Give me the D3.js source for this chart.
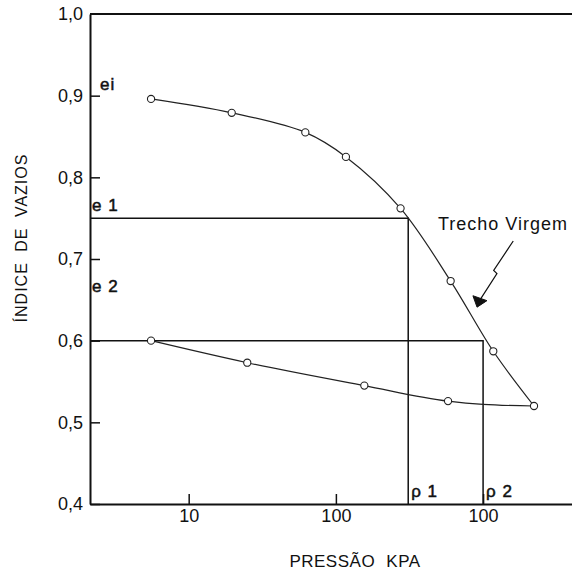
<!DOCTYPE html>
<html lang="pt">
<head>
<meta charset="UTF-8">
<title>Indice de vazios x pressao</title>
<script src="https://d3js.org/d3.v7.min.js"></script>
<style>
    body { margin: 0; background: #fff; }
    text { font-family: "Liberation Sans", Arial, sans-serif; fill: #111; }
</style>
</head>
<body>
<script>
    // upper (loading) curve
    var upperP = [5.55, 19.6, 62, 117, 275, 602, 1173, 2218];
    var upperE = [0.896, 0.879, 0.855, 0.825, 0.762, 0.673, 0.587, 0.520];
    // lower (unloading) curve
    var lowerP = [5.55, 25, 156, 578, 2218];
    var lowerE = [0.600, 0.573, 0.545, 0.526, 0.520];
    // knee of the lower line, just before it joins the last point
    var lowerKnee = [1000, 0.522];

    var yTicks = [0.4, 0.5, 0.6, 0.7, 0.8, 0.9, 1.0];
    var xTicks = [10, 100, 1000];
    var xTickLabels = ["10", "100", "100"];

    var e1 = 0.75, e2 = 0.6, p1 = 310, p2 = 1000;

    // annotation "Trecho Virgem"
    var notePos = [494, 0.7355];
    var arrowLine = [[1603, 0.722], [1180, 0.686], [1242, 0.682], [953, 0.650]];
    var arrowHead = [[853, 0.655], [1062, 0.649], [910, 0.641]];

    var W = 572, H = 574;
    var plotL = 90, plotR = 572, plotT = 14, plotB = 504;

    var x = d3.scaleLog().domain([2.136, 4018]).range([plotL, plotR]);
    var y = d3.scaleLinear().domain([0.4, 1.0]).range([plotB, plotT]);

    var svg = d3.select("body").append("svg")
        .attr("width", W).attr("height", H);

    // y axis
    var yAxis = svg.append("g")
        .attr("transform", "translate(" + plotL + ",0)")
        .call(d3.axisLeft(y).tickValues(yTicks).tickSize(-10).tickSizeOuter(0)
            .tickPadding(7)
            .tickFormat(function (d) { return d.toFixed(1).replace(".", ","); }));

    // x axis
    var xAxis = svg.append("g")
        .attr("transform", "translate(0," + plotB + ")")
        .call(d3.axisBottom(x).tickValues(xTicks).tickSize(-10).tickSizeOuter(0)
            .tickPadding(5)
            .tickFormat(function (d, i) { return xTickLabels[i]; }));

    [yAxis, xAxis].forEach(function (g) {
        g.select(".domain").attr("stroke", "#111").attr("stroke-width", 2);
        g.selectAll(".tick line").attr("stroke", "#111").attr("stroke-width", 1.5);
        g.selectAll(".tick text").style("font-size", "18px").attr("fill", "#222")
            .style("font-family", "'Liberation Sans', Arial, sans-serif");
    });
    yAxis.selectAll(".tick").filter(function (d) { return d === 1.0; }).select("line").remove();

    // top frame line
    svg.append("line")
        .attr("x1", plotL).attr("x2", plotR)
        .attr("y1", y(1.0)).attr("y2", y(1.0))
        .attr("stroke", "#111").attr("stroke-width", 2);

    // construction lines e1/p1, e2/p2
    var guides = [
        [[x.domain()[0], e1], [p1, e1], [p1, 0.4]],
        [[x.domain()[0], e2], [p2, e2], [p2, 0.4]]
    ];
    var gl = d3.line().x(function (d) { return x(d[0]); }).y(function (d) { return y(d[1]); });
    svg.selectAll(".guide").data(guides).enter().append("path")
        .attr("class", "guide")
        .attr("d", gl)
        .attr("fill", "none").attr("stroke", "#111").attr("stroke-width", 1.5);

    // curves
    var upper = upperP.map(function (p, i) { return [p, upperE[i]]; });
    var lower = lowerP.map(function (p, i) { return [p, lowerE[i]]; });
    var lowerPath = lower.slice(0, 4).concat([lowerKnee], lower.slice(4));

    var upperLine = d3.line()
        .x(function (d) { return x(d[0]); })
        .y(function (d) { return y(d[1]); })
        .curve(d3.curveCatmullRom.alpha(0.5));
    var lowerLine = d3.line()
        .x(function (d) { return x(d[0]); })
        .y(function (d) { return y(d[1]); })
        .curve(d3.curveMonotoneX);

    svg.append("path").attr("d", upperLine(upper))
        .attr("fill", "none").attr("stroke", "#222").attr("stroke-width", 1.2);
    svg.append("path").attr("d", lowerLine(lowerPath))
        .attr("fill", "none").attr("stroke", "#222").attr("stroke-width", 1.2);

    svg.selectAll(".pt").data(upper.concat(lower.slice(0, 4))).enter().append("circle")
        .attr("class", "pt")
        .attr("cx", function (d) { return x(d[0]); })
        .attr("cy", function (d) { return y(d[1]); })
        .attr("r", 3.6)
        .attr("fill", "#fff").attr("stroke", "#222").attr("stroke-width", 1.1);

    // labels ei, e1, e2, p1, p2
    function lab(t, px, py) {
        svg.append("text").attr("x", px).attr("y", py)
            .style("font-size", "17px")
            .style("letter-spacing", "1px")
            .attr("stroke", "#111").attr("stroke-width", 0.5)
            .text(t);
    }
    lab("ei", plotL + 10, y(0.9) - 6);
    lab("e 1", plotL + 2, y(e1) - 7);
    lab("e 2", plotL + 2, y(0.7) + 33);
    lab("ρ 1", x(p1) + 3, plotB - 7);
    lab("ρ 2", x(p2) + 3, plotB - 7);

    // annotation
    svg.append("text")
        .attr("x", x(notePos[0])).attr("y", y(notePos[1]))
        .style("font-size", "18px").style("letter-spacing", "1px")
        .text("Trecho Virgem");
    var al = d3.line().x(function (d) { return x(d[0]); }).y(function (d) { return y(d[1]); });
    svg.append("path").attr("d", al(arrowLine))
        .attr("fill", "none").attr("stroke", "#111").attr("stroke-width", 1.2);
    svg.append("path").attr("d", al(arrowHead) + "Z")
        .attr("fill", "#111").attr("stroke", "#111").attr("stroke-width", 1);

    // axis titles
    svg.append("text")
        .attr("transform", "translate(27,238) rotate(-90)")
        .attr("text-anchor", "middle")
        .style("font-size", "16px").style("letter-spacing", "1px").style("word-spacing", "5px")
        .attr("fill", "#222")
        .text("ÍNDICE DE VAZIOS");

    svg.append("text")
        .attr("x", 355).attr("y", 567)
        .attr("text-anchor", "middle")
        .style("font-size", "17px").style("letter-spacing", "0.5px").style("word-spacing", "6px")
        .attr("fill", "#222")
        .text("PRESSÃO KPA");
</script>
</body>
</html>
